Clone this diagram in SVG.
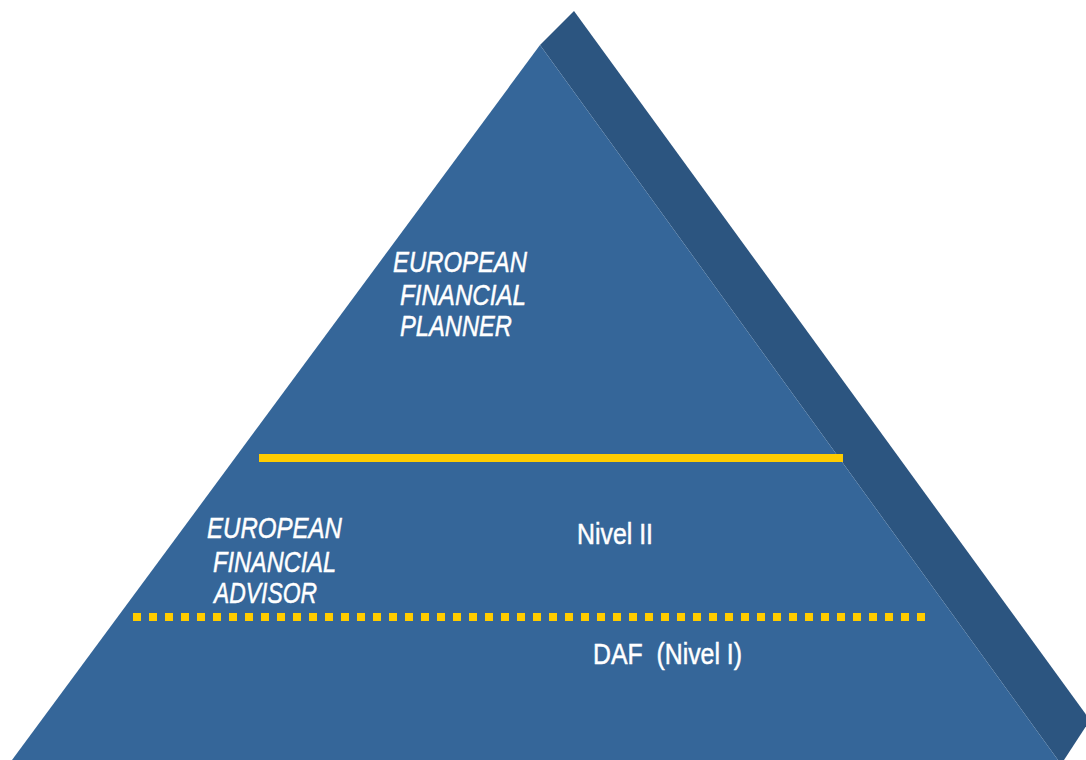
<svg xmlns="http://www.w3.org/2000/svg" width="1086" height="760" viewBox="0 0 1086 760">
  <style>
    .front { fill: #356699; }
    .side { fill: #2c5580; }
    .lbl { fill: #ffffff; stroke: #ffffff; stroke-width: 0.5; font-family: "Liberation Sans Narrow", "Liberation Sans", Arial, sans-serif; font-size: 29.5px; white-space: pre; }
    .it { font-style: italic; }
    .solid { stroke: #ffcc00; stroke-width: 8; fill: none; }
    .dotted { stroke: #ffcc00; stroke-width: 8; stroke-dasharray: 8 8; fill: none; }
  </style>
  <rect width="1086" height="760" fill="#ffffff"/>
  <g id="pyramid">
    <polygon class="side" points="540,45 574,11 1090,720 1064,760 1058,760"/>
    <polygon class="front" points="540,45 1058,760 12,760"/>
  </g>
  <g id="connectors">
    <line class="solid" x1="259" y1="458" x2="843" y2="458"/>
    <line class="dotted" x1="133" y1="617" x2="933" y2="617"/>
  </g>
  <g id="node-planner">
    <text class="lbl it" x="393" y="272" textLength="134" lengthAdjust="spacingAndGlyphs">EUROPEAN</text>
    <text class="lbl it" x="400" y="305" textLength="126" lengthAdjust="spacingAndGlyphs">FINANCIAL</text>
    <text class="lbl it" x="400" y="336" textLength="112" lengthAdjust="spacingAndGlyphs">PLANNER</text>
  </g>
  <g id="node-advisor">
    <text class="lbl it" x="207" y="538" textLength="135" lengthAdjust="spacingAndGlyphs">EUROPEAN</text>
    <text class="lbl it" x="213" y="572" textLength="123" lengthAdjust="spacingAndGlyphs">FINANCIAL</text>
    <text class="lbl it" x="214" y="603" textLength="103" lengthAdjust="spacingAndGlyphs">ADVISOR</text>
  </g>
  <g id="node-nivel2">
    <text class="lbl" x="577" y="544" textLength="76" lengthAdjust="spacingAndGlyphs">Nivel II</text>
  </g>
  <g id="node-daf">
    <text class="lbl" x="593" y="664" textLength="149" lengthAdjust="spacingAndGlyphs" xml:space="preserve">DAF  (Nivel I)</text>
  </g>
</svg>
